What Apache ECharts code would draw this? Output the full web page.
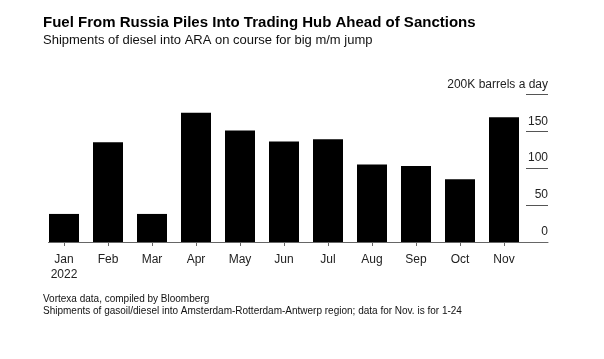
<!DOCTYPE html>
<html>
<head>
<meta charset="utf-8">
<script src="https://cdn.jsdelivr.net/npm/echarts@6/dist/echarts.min.js"></script>
<style>
html,body{margin:0;padding:0;background:#fff;}
#c{width:604px;height:359px;}
</style>
</head>
<body>
<div id="c"></div>
<script>
const months = ['Jan\n2022','Feb','Mar','Apr','May','Jun','Jul','Aug','Sep','Oct','Nov'];
const shipments = [38, 135, 38, 175, 151, 136, 139, 105, 103, 85, 169];
const yTicks = [0, 50, 100, 150, 200];
const yUnitLabel = '200K barrels a day';

const FONT = '"Liberation Sans", Arial, sans-serif';
const chart = echarts.init(document.getElementById('c'), null, {renderer:'canvas'});
chart.setOption({
  backgroundColor: '#fff',
  animation: false,
  title: [
    {text: 'Fuel From Russia Piles Into Trading Hub Ahead of Sanctions', left: 38, top: 10,
     textStyle: {fontFamily: FONT, fontSize: 15, fontWeight: 'bold', color: '#000'}},
    {text: 'Shipments of diesel into ARA on course for big m/m jump', left: 38, top: 29,
     textStyle: {fontFamily: FONT, fontSize: 13, fontWeight: 'normal', color: '#111'}},
    {text: 'Vortexa data, compiled by Bloomberg\nShipments of gasoil/diesel into Amsterdam-Rotterdam-Antwerp region; data for Nov. is for 1-24', left: 38, top: 288,
     textStyle: {fontFamily: FONT, fontSize: 10, fontWeight: 'normal', color: '#111', lineHeight: 12}}
  ],
  grid: [
    {left: 42, right: 78, top: 94.3, bottom: 117},
    {left: 48.5, right: 56, top: 94.3, bottom: 117},
    {left: 526, right: 56, top: 94.3, bottom: 117}
  ],
  xAxis: [
    {type: 'category', gridIndex: 0, data: months,
     axisLine: {show: false},
     axisTick: {show: true, alignWithLabel: true, length: 4, lineStyle: {color: '#666'}},
     axisLabel: {fontFamily: FONT, fontSize: 12, color: '#222', margin: 10, lineHeight: 15}},
    {type: 'value', gridIndex: 1, min: 0, max: 1, show: true,
     axisLine: {show: true, lineStyle: {color: '#666', width: 1}},
     axisTick: {show: false}, axisLabel: {show: false}, splitLine: {show: false}},
    {type: 'value', gridIndex: 2, min: 0, max: 1, show: false}
  ],
  yAxis: [
    {type: 'value', gridIndex: 0, min: 0, max: 200, show: false},
    {type: 'value', gridIndex: 1, min: 0, max: 200, show: false},
    {type: 'value', gridIndex: 2, position: 'right', min: yTicks[0], max: yTicks[yTicks.length-1], interval: 50,
     axisLine: {show: false},
     axisTick: {show: false},
     axisLabel: {inside: true, margin: 0, fontFamily: FONT, fontSize: 12, color: '#222',
       verticalAlign: 'bottom', padding: [0, 0, 4, 0],
       formatter: v => v === 200 ? yUnitLabel : String(v)},
     splitLine: {show: true, lineStyle: {color: '#555', width: 1}}}
  ],
  series: [
    {type: 'bar', xAxisIndex: 0, yAxisIndex: 0, data: shipments, barWidth: 30,
     itemStyle: {color: '#000'}}
  ]
});
</script>
</body>
</html>
